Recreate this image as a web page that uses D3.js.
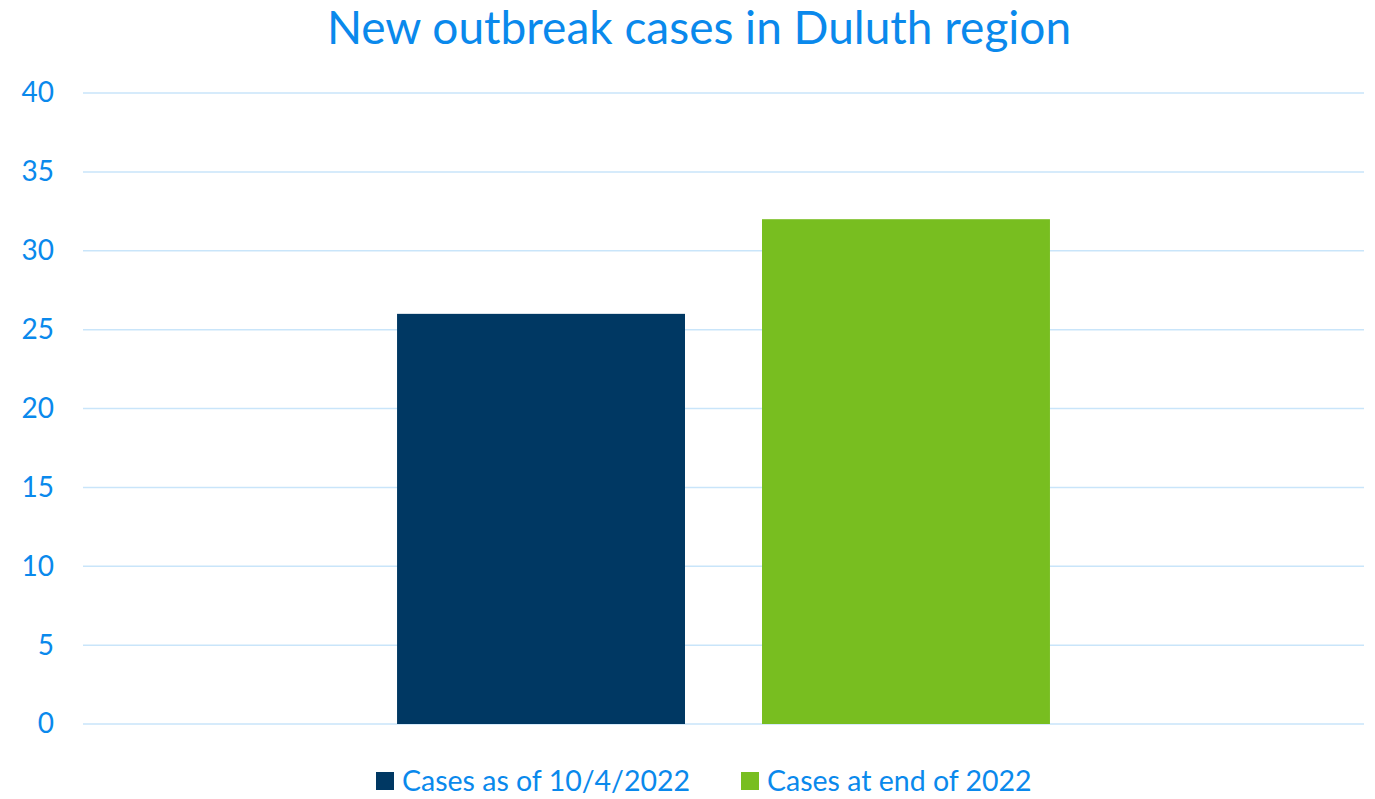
<!DOCTYPE html>
<html>
<head>
<meta charset="utf-8">
<script src="https://cdn.jsdelivr.net/npm/d3@7"></script>
<style>
  body { margin: 0; background: #fff; }
  svg text { font-family: Lato, "Noto Sans", sans-serif; fill: #0a89ec; }
</style>
</head>
<body>
<svg id="chart"></svg>
<script>
// chart data
var categories = ["Duluth"];
var seriesNames = ["Cases as of 10/4/2022", "Cases at end of 2022"];
var seriesValues = [26, 32];
var seriesColors = ["#003863", "#78be20"];
var yTicks = [0, 5, 10, 15, 20, 25, 30, 35, 40];
var title = "New outbreak cases in Duluth region";

var width = 1375, height = 799;
var margin = {top: 93, right: 11, bottom: 75, left: 83};

var svg = d3.select("#chart").attr("width", width).attr("height", height);

var y = d3.scaleLinear()
    .domain([0, 40])
    .range([height - margin.bottom, margin.top]);

var x0 = d3.scaleBand()
    .domain(categories)
    .range([margin.left, width - margin.right])
    .paddingInner(0)
    .paddingOuter(0.481);

var x1 = d3.scaleBand()
    .domain(seriesNames)
    .range([0, x0.bandwidth()])
    .paddingInner(0.211)
    .paddingOuter(0);

// gridlines
svg.append("g")
    .selectAll("line")
    .data(yTicks)
    .enter().append("line")
    .attr("x1", margin.left)
    .attr("x2", width - margin.right)
    .attr("y1", function(d){ return y(d); })
    .attr("y2", function(d){ return y(d); })
    .style("stroke", "#c9e5fa")
    .style("stroke-width", 1.5);

// y axis labels
var yAxis = d3.axisLeft(y).tickValues(yTicks).tickSize(0).tickPadding(29);
var ya = svg.append("g")
    .attr("transform", "translate(" + margin.left + ",0)")
    .call(yAxis);
ya.select(".domain").remove();
ya.selectAll("text")
    .style("font-size", "28px")
    .attr("fill", null);

// bars
var groups = svg.append("g")
    .selectAll("g")
    .data(categories)
    .enter().append("g")
    .attr("transform", function(d){ return "translate(" + x0(d) + ",0)"; });

groups.selectAll("rect")
    .data(seriesNames.map(function(s, i){ return {name: s, value: seriesValues[i], color: seriesColors[i]}; }))
    .enter().append("rect")
    .attr("x", function(d){ return x1(d.name); })
    .attr("width", x1.bandwidth())
    .attr("y", function(d){ return y(d.value); })
    .attr("height", function(d){ return y(0) - y(d.value); })
    .style("fill", function(d){ return d.color; });

// title
svg.append("text")
    .attr("x", 699)
    .attr("y", 44)
    .attr("text-anchor", "middle")
    .style("font-size", "46px")
    .text(title);

// legend
var legend = svg.append("g");
var lx = [376, 741];
seriesNames.forEach(function(s, i){
    var g = legend.append("g").attr("transform", "translate(" + lx[i] + ",772)");
    g.append("rect").attr("width", 18).attr("height", 18).style("fill", seriesColors[i]);
    g.append("text").attr("x", 26).attr("y", 19).style("font-size", "28.5px").text(s);
});
</script>
</body>
</html>
